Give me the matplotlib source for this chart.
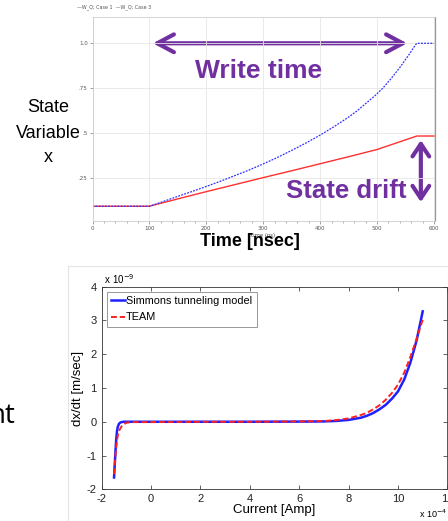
#!/usr/bin/env python

from matplotlib import pyplot as plt
from matplotlib.patches import FancyArrowPatch, Rectangle
from matplotlib.ticker import MultipleLocator

plt.rcParams['axes.unicode_minus'] = False

# top panel: state variable x vs time [ns]
t_case1 = [0, 100, 125, 150, 175, 200, 225, 250, 275, 300, 325, 350, 375, 400, 425, 450,
           465, 480, 495, 510, 525, 540, 550, 558, 564, 568, 570, 600]
x_case1 = [0.095, 0.095, 0.122, 0.15, 0.177, 0.205, 0.234, 0.265, 0.296, 0.33, 0.366, 0.405,
           0.446, 0.49, 0.538, 0.59, 0.625, 0.665, 0.705, 0.75, 0.805, 0.865, 0.91, 0.945,
           0.975, 0.993, 1.0, 1.0]
t_case3 = [0, 100, 150, 200, 250, 300, 350, 400, 450, 500, 570, 600]
x_case3 = [0.095, 0.095, 0.136, 0.176, 0.215, 0.254, 0.292, 0.331, 0.37, 0.41, 0.485, 0.485]
top_xticks = [0, 100, 200, 300, 400, 500, 600]
top_yticks = [0.25, 0.5, 0.75, 1.0]
top_yticklabels = ['.25', '.5', '.75', '1.0']

# bottom panel: dx/dt [1e-9 m/sec] vs current [1e-4 A]
i_simmons = [-1.5, -1.47, -1.44, -1.41, -1.38, -1.35, -1.3, -1.25, -1.2, -1.1, 0, 2, 4, 6, 7,
             7.5, 8, 8.5, 8.75, 9, 9.25, 9.5, 9.75, 10, 10.25, 10.5, 10.75, 11]
v_simmons = [-1.65, -1.25, -0.85, -0.5, -0.28, -0.15, -0.06, -0.025, -0.01, 0, 0, 0, 0, 0.005, 0.01,
             0.025, 0.055, 0.12, 0.18, 0.26, 0.37, 0.5, 0.68, 0.9, 1.25, 1.75, 2.4, 3.27]
i_team = [-1.5, -1.46, -1.42, -1.38, -1.34, -1.3, -1.2, -1.1, -1.0, -0.8, 0, 2, 4, 6, 7,
          7.5, 8, 8.5, 8.75, 9, 9.25, 9.5, 9.75, 10, 10.25, 10.5, 10.75, 11]
v_team = [-1.55, -1.15, -0.8, -0.55, -0.38, -0.27, -0.14, -0.07, -0.03, -0.01, -0.01, 0, 0, 0.01, 0.02,
          0.05, 0.1, 0.2, 0.27, 0.37, 0.49, 0.65, 0.85, 1.1, 1.45, 1.92, 2.45, 3.02]
bot_xticks = [-2, 0, 2, 4, 6, 8, 10, 12]
bot_yticks = [-2, -1, 0, 1, 2, 3, 4]

PURPLE = '#7030A0'
W, H = 448, 521


def fx(px):
    return px / W


def fy(py):
    return 1 - py / H


fig = plt.figure(figsize=(4.48, 5.21), dpi=100)
fig.patch.set_facecolor('white')

# ---------------- top panel ----------------
ax1 = fig.add_axes([fx(92.5), fy(221), (434.5 - 92.5) / W, (221 - 17) / H])
ax1.plot(t_case3, x_case3, color='#ff3030', lw=1.0)
ax1.plot(t_case1, x_case1, color='#3030ff', lw=0.9, ls=(0, (1.5, 1)))
ax1.set_xlim(0, 601)
ax1.set_ylim(0.013, 1.146)
ax1.set_xticks(top_xticks)
ax1.xaxis.set_minor_locator(MultipleLocator(20))
ax1.set_yticks(top_yticks)
ax1.set_yticklabels(top_yticklabels)
ax1.grid(True, color='#e6e6e6', lw=0.6)
ax1.tick_params(labelsize=4, colors='#555555', length=2, width=0.4, pad=1.5)
ax1.tick_params(which='minor', length=1.2, width=0.4, colors='#777777')
for side in ['left', 'top', 'bottom']:
    ax1.spines[side].set_color('#cccccc')
    ax1.spines[side].set_linewidth(0.6)
ax1.spines['right'].set_color('#999999')
ax1.spines['right'].set_linewidth(0.9)

ax1.text(0.5, -0.06, 'time (ns)', transform=ax1.transAxes, ha='center', va='top',
         fontsize=3.8, color='#444444')
fig.text(fx(77), fy(7), '\u2014W_Q; Case 1  \u2014W_Q; Case 3', fontsize=3.5,
         color='#555555', va='center', ha='left')

# annotations
ax1.add_patch(FancyArrowPatch((106, 1.0), (553, 1.0), arrowstyle='<->,head_length=0.6,head_width=0.32',
                              mutation_scale=20, color=PURPLE, lw=3.0, shrinkA=0, shrinkB=0))
ax1.add_patch(FancyArrowPatch((577, 0.462), (577, 0.118), arrowstyle='<->,head_length=0.45,head_width=0.3',
                              mutation_scale=20, color=PURPLE, lw=3.0, shrinkA=0, shrinkB=0))
ax1.text(291, 0.805, 'Write time', color=PURPLE, fontsize=19, fontweight='bold',
         family='Liberation Sans', ha='center', va='baseline')
ax1.text(446, 0.139, 'State drift', color=PURPLE, fontsize=18.5, fontweight='bold',
         family='Liberation Sans', ha='center', va='baseline')

fig.text(fx(48), fy(107), 'State', fontsize=13, family='Liberation Sans', ha='center', va='center')
fig.text(fx(48), fy(133), 'Variable', fontsize=13, family='Liberation Sans', ha='center', va='center')
fig.text(fx(48), fy(158), 'x', fontsize=13, family='Liberation Sans', ha='center', va='center')
fig.text(fx(250), fy(241), 'Time [nsec]', fontsize=13, fontweight='bold',
         family='Liberation Sans', ha='center', va='center')

# ---------------- bottom panel ----------------
fig.add_artist(Rectangle((fx(68), 0), 1 - fx(68), fy(266), transform=fig.transFigure,
                         fill=False, edgecolor='#e4e4e4', lw=0.8))
fig.text(fx(15), fy(423), 'nt', fontsize=20, family='Open Sans', ha='right', va='baseline')

ax2 = fig.add_axes([fx(101.7), fy(489.3), (447.4 - 101.7) / W, (489.3 - 286.7) / H])
ax2.plot(i_simmons, v_simmons, color='#2020ff', lw=1.8, label='Simmons tunneling model')
ax2.plot(i_team, v_team, color='#ff2020', lw=1.4, ls=(0, (3, 1.5)), label='TEAM')
ax2.set_xlim(-2, 12)
ax2.set_ylim(-2, 4)
ax2.set_xticks(bot_xticks)
ax2.set_yticks(bot_yticks)
ax2.tick_params(direction='in', top=True, right=True, labelsize=8, length=3, width=0.5,
                pad=3.5, colors='#222222')
for tl in ax2.get_xticklabels() + ax2.get_yticklabels():
    tl.set_family('Liberation Sans')
for side in ax2.spines.values():
    side.set_color('#333333')
    side.set_linewidth(0.6)
ax2.set_xlabel('Current [Amp]', fontsize=9.5, family='Liberation Sans', labelpad=0)
ax2.set_ylabel('dx/dt [m/sec]', fontsize=9.5, family='Liberation Sans', labelpad=2)
ax2.text(0.0, 1.005, ' x 10$^{-9}$', transform=ax2.transAxes, fontsize=7,
         family='Liberation Sans', ha='left', va='bottom')
ax2.text(fx(447), fy(518), 'x 10$^{-4}$', transform=fig.transFigure, fontsize=6.5,
         family='Liberation Sans', ha='right', va='baseline')
leg = ax2.legend(loc='upper left', handlelength=1.3, handletextpad=0.1,
                 borderaxespad=0.45, fancybox=False, edgecolor='#888888', framealpha=1,
                 labelspacing=0.6, prop={'family': 'Liberation Sans', 'size': 7.8})
leg.get_frame().set_linewidth(0.6)

fig.savefig('out.png', dpi=100)
